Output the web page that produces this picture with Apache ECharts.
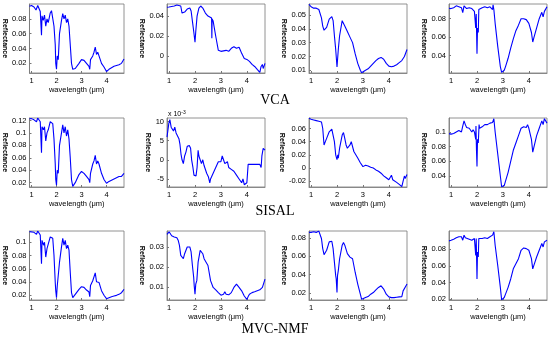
<!DOCTYPE html>
<html><head><meta charset="utf-8">
<script src="https://cdn.jsdelivr.net/npm/echarts@6/dist/echarts.min.js"></script>
<style>html,body{margin:0;padding:0;background:#fff}#c{width:550px;height:337px}</style>
</head><body><div id="c"></div>
<script>
const xTicks=[1,2,3,4];
const xRange=[0.92,4.7];
const methods=['VCA','SISAL','MVC-NMF'];

// VCA
const vca1=[[0.92,0.097],[1.0,0.098],[1.1,0.096],[1.18,0.092],[1.25,0.098],[1.3,0.097],[1.35,0.09],[1.4,0.058],[1.42,0.084],[1.47,0.078],[1.52,0.085],[1.57,0.07],[1.62,0.08],[1.67,0.075],[1.75,0.088],[1.8,0.091],[1.85,0.089],[1.9,0.07],[1.95,0.045],[1.97,0.02],[2.0,0.012],[2.03,0.03],[2.07,0.025],[2.12,0.06],[2.2,0.078],[2.25,0.087],[2.3,0.08],[2.35,0.085],[2.4,0.075],[2.45,0.08],[2.5,0.07],[2.55,0.045],[2.6,0.02],[2.65,0.012],[2.75,0.013],[2.9,0.02],[3.0,0.025],[3.1,0.024],[3.2,0.02],[3.3,0.016],[3.33,0.012],[3.36,0.025],[3.45,0.03],[3.5,0.035],[3.55,0.042],[3.6,0.032],[3.65,0.035],[3.7,0.03],[3.8,0.02],[3.9,0.015],[4.0,0.009],[4.1,0.012],[4.2,0.014],[4.3,0.016],[4.4,0.017],[4.5,0.018],[4.6,0.02],[4.7,0.026]];
const vca2=[[0.92,0.0487],[1.0,0.049],[1.1,0.0495],[1.2,0.05],[1.3,0.051],[1.35,0.052],[1.45,0.05],[1.5,0.043],[1.6,0.044],[1.7,0.047],[1.8,0.048],[1.85,0.045],[1.9,0.035],[1.95,0.025],[2.0,0.014],[2.03,0.025],[2.08,0.04],[2.15,0.048],[2.22,0.05],[2.3,0.048],[2.4,0.043],[2.5,0.04],[2.55,0.041],[2.64,0.038],[2.65,0.018],[2.66,0.037],[2.7,0.035],[2.8,0.02],[2.9,0.006],[3.0,0.005],[3.2,0.006],[3.3,0.005],[3.4,0.008],[3.5,0.0095],[3.6,0.008],[3.7,0.009],[3.75,0.006],[3.8,0.003],[3.9,-0.002],[4.0,-0.003],[4.1,-0.005],[4.2,-0.008],[4.3,-0.01],[4.4,-0.013],[4.5,-0.0158],[4.55,-0.01],[4.6,-0.008],[4.63,-0.012],[4.7,-0.007]];
const vca3=[[0.92,0.0578],[1.0,0.056],[1.1,0.055],[1.2,0.055],[1.3,0.054],[1.4,0.048],[1.45,0.042],[1.5,0.039],[1.55,0.038],[1.6,0.041],[1.7,0.047],[1.8,0.0488],[1.85,0.046],[1.9,0.035],[1.95,0.025],[2.0,0.0124],[2.05,0.025],[2.1,0.035],[2.2,0.0459],[2.3,0.042],[2.4,0.038],[2.5,0.034],[2.6,0.03],[2.7,0.022],[2.8,0.015],[2.9,0.01],[2.95,0.0082],[3.0,0.0085],[3.1,0.01],[3.2,0.011],[3.3,0.013],[3.4,0.015],[3.5,0.017],[3.6,0.0185],[3.7,0.0193],[3.8,0.018],[3.9,0.015],[4.0,0.013],[4.1,0.0125],[4.2,0.013],[4.3,0.014],[4.4,0.0155],[4.5,0.017],[4.6,0.02],[4.7,0.025]];
const vca4=[[0.92,0.0914],[1.0,0.091],[1.1,0.092],[1.2,0.094],[1.3,0.093],[1.4,0.092],[1.45,0.0866],[1.5,0.094],[1.55,0.095],[1.6,0.091],[1.7,0.092],[1.8,0.091],[1.85,0.09],[1.9,0.088],[1.95,0.07],[1.97,0.085],[2.0,0.0418],[2.02,0.07],[2.05,0.065],[2.07,0.09],[2.2,0.092],[2.3,0.093],[2.4,0.092],[2.5,0.093],[2.6,0.09],[2.62,0.095],[2.65,0.09],[2.7,0.075],[2.8,0.05],[2.9,0.028],[2.95,0.0217],[3.0,0.022],[3.05,0.024],[3.1,0.028],[3.2,0.037],[3.3,0.048],[3.4,0.058],[3.5,0.067],[3.6,0.073],[3.7,0.08],[3.8,0.08],[3.9,0.079],[3.95,0.08],[4.0,0.075],[4.1,0.065],[4.15,0.0547],[4.2,0.06],[4.3,0.07],[4.4,0.08],[4.5,0.087],[4.55,0.082],[4.6,0.088],[4.7,0.093]];

// SISAL
const sisal1=[[0.92,0.1227],[1.0,0.123],[1.1,0.121],[1.2,0.118],[1.25,0.124],[1.3,0.123],[1.35,0.118],[1.4,0.068],[1.42,0.11],[1.48,0.105],[1.52,0.11],[1.57,0.087],[1.62,0.1],[1.67,0.105],[1.75,0.118],[1.8,0.119],[1.85,0.115],[1.9,0.09],[1.95,0.05],[1.97,0.025],[2.0,0.016],[2.03,0.04],[2.07,0.035],[2.12,0.08],[2.2,0.1],[2.25,0.113],[2.3,0.1],[2.35,0.11],[2.4,0.095],[2.45,0.105],[2.5,0.09],[2.55,0.06],[2.6,0.025],[2.65,0.014],[2.75,0.02],[2.9,0.033],[3.0,0.038],[3.1,0.035],[3.2,0.03],[3.3,0.025],[3.33,0.02],[3.36,0.035],[3.45,0.05],[3.5,0.055],[3.55,0.064],[3.6,0.05],[3.65,0.055],[3.7,0.05],[3.8,0.035],[3.9,0.025],[4.0,0.019],[4.1,0.022],[4.2,0.024],[4.3,0.026],[4.4,0.028],[4.5,0.03],[4.55,0.027],[4.6,0.03],[4.7,0.035]];
// values in units of 1e-3
const sisal2=[[0.92,5.9],[0.99,9.5],[1.03,10.5],[1.08,8.5],[1.12,9],[1.17,7.5],[1.22,8.5],[1.27,7],[1.32,6.5],[1.38,5.5],[1.42,4],[1.46,1.5],[1.5,0],[1.55,-1],[1.6,1],[1.65,2],[1.7,3.5],[1.78,3.7],[1.83,3],[1.87,0],[1.92,-2],[1.96,-4],[2.0,-3.5],[2.04,-4.2],[2.08,-2],[2.12,2.5],[2.15,1],[2.2,1.5],[2.25,-1],[2.3,0],[2.35,-1.5],[2.4,-2],[2.45,-3.5],[2.52,-4.5],[2.57,-6],[2.6,-5],[2.7,-3.5],[2.8,-2],[2.9,-0.5],[2.95,-1],[3.0,-0.5],[3.05,1],[3.1,0],[3.15,-1],[3.2,-1.5],[3.25,-0.5],[3.3,-2],[3.35,-1.5],[3.4,-2.5],[3.5,-3],[3.55,-2.5],[3.6,-4],[3.65,-3.5],[3.7,-5],[3.75,-4.5],[3.8,-6],[3.85,-5],[3.9,-6.5],[3.95,-7],[4.0,-6],[4.05,-1.2],[4.1,-1],[4.5,-1.2],[4.55,-2],[4.58,1],[4.63,3],[4.7,2.5]];
const sisal3=[[0.92,0.0755],[1.0,0.074],[1.1,0.073],[1.2,0.072],[1.3,0.071],[1.4,0.07],[1.45,0.06],[1.5,0.035],[1.55,0.04],[1.6,0.045],[1.7,0.055],[1.8,0.059],[1.85,0.057],[1.9,0.04],[1.95,0.02],[2.0,0.0125],[2.03,0.02],[2.05,0.015],[2.1,0.03],[2.2,0.05],[2.25,0.0538],[2.3,0.045],[2.35,0.035],[2.4,0.03],[2.45,0.032],[2.5,0.035],[2.55,0.04],[2.6,0.0383],[2.65,0.025],[2.7,0.022],[2.8,0.015],[2.9,0.008],[3.0,0.002],[3.1,0.004],[3.2,0.003],[3.25,0.004],[3.3,0.001],[3.4,0.0],[3.5,-0.003],[3.6,-0.005],[3.7,-0.008],[3.8,-0.012],[3.9,-0.015],[4.0,-0.018],[4.05,-0.016],[4.1,-0.011],[4.15,-0.018],[4.2,-0.02],[4.3,-0.022],[4.4,-0.025],[4.5,-0.0285],[4.55,-0.02],[4.6,-0.0123],[4.63,-0.016],[4.7,-0.01]];
const sisal4=[[0.92,0.0977],[1.0,0.097],[1.1,0.098],[1.2,0.1],[1.3,0.102],[1.35,0.101],[1.4,0.1],[1.45,0.108],[1.5,0.115],[1.55,0.11],[1.6,0.106],[1.7,0.105],[1.8,0.1],[1.85,0.103],[1.9,0.1],[1.95,0.09],[1.96,0.108],[1.98,0.075],[2.0,0.053],[2.02,0.09],[2.05,0.085],[2.08,0.11],[2.1,0.105],[2.2,0.107],[2.3,0.11],[2.4,0.11],[2.5,0.112],[2.6,0.113],[2.65,0.118],[2.7,0.1],[2.8,0.07],[2.9,0.04],[2.95,0.0253],[3.0,0.026],[3.05,0.027],[3.1,0.033],[3.2,0.045],[3.3,0.06],[3.4,0.075],[3.5,0.085],[3.6,0.095],[3.7,0.105],[3.8,0.107],[3.9,0.106],[3.95,0.11],[4.0,0.105],[4.1,0.09],[4.15,0.0725],[4.2,0.08],[4.3,0.095],[4.4,0.105],[4.5,0.115],[4.55,0.11],[4.6,0.118],[4.7,0.112]];

// MVC-NMF
const mvc1=[[0.92,0.116],[1.1,0.115],[1.2,0.112],[1.25,0.117],[1.3,0.116],[1.35,0.111],[1.4,0.0675],[1.42,0.103],[1.48,0.0956],[1.52,0.1],[1.57,0.0777],[1.62,0.0905],[1.67,0.093],[1.75,0.108],[1.8,0.11],[1.85,0.106],[1.9,0.08],[1.95,0.0395],[1.97,0.027],[2.0,0.0165],[2.03,0.034],[2.07,0.032],[2.12,0.07],[2.2,0.093],[2.25,0.106],[2.3,0.0956],[2.35,0.103],[2.4,0.0905],[2.45,0.0956],[2.5,0.088],[2.55,0.0548],[2.6,0.024],[2.65,0.0165],[2.75,0.0215],[2.9,0.029],[3.0,0.033],[3.1,0.032],[3.2,0.028],[3.3,0.025],[3.33,0.018],[3.36,0.035],[3.45,0.042],[3.5,0.0446],[3.55,0.0538],[3.6,0.0405],[3.65,0.0435],[3.7,0.0395],[3.8,0.027],[3.9,0.0201],[4.0,0.015],[4.1,0.0165],[4.2,0.018],[4.3,0.019],[4.4,0.02],[4.5,0.0215],[4.55,0.02],[4.6,0.024],[4.7,0.029]];
const mvc2=[[0.92,0.0363],[1.0,0.0376],[1.05,0.0368],[1.1,0.0356],[1.2,0.035],[1.25,0.0342],[1.3,0.0346],[1.35,0.0334],[1.4,0.0308],[1.45,0.0258],[1.5,0.0249],[1.55,0.0241],[1.6,0.0266],[1.7,0.03],[1.75,0.0308],[1.8,0.03],[1.85,0.0275],[1.9,0.0207],[1.95,0.0147],[1.97,0.0105],[2.0,0.0063],[2.03,0.0114],[2.07,0.0131],[2.12,0.0224],[2.2,0.0283],[2.25,0.0288],[2.3,0.0266],[2.35,0.0241],[2.4,0.0232],[2.5,0.0207],[2.6,0.0131],[2.7,0.0097],[2.8,0.0085],[2.9,0.0071],[3.0,0.0058],[3.1,0.0063],[3.15,0.0075],[3.2,0.0063],[3.3,0.006],[3.4,0.0071],[3.5,0.0097],[3.6,0.0114],[3.65,0.0108],[3.7,0.0097],[3.8,0.008],[3.9,0.0054],[3.95,0.0046],[4.0,0.0037],[4.05,0.0051],[4.1,0.0063],[4.2,0.0071],[4.3,0.0075],[4.4,0.008],[4.5,0.0085],[4.6,0.0097],[4.7,0.0139]];
const mvc3=[[0.92,0.0859],[1.0,0.0859],[1.1,0.0866],[1.2,0.0859],[1.3,0.0873],[1.35,0.0866],[1.4,0.0793],[1.45,0.0683],[1.5,0.0617],[1.55,0.0628],[1.6,0.0665],[1.7,0.0756],[1.75,0.0774],[1.8,0.0763],[1.85,0.0683],[1.9,0.0537],[1.95,0.039],[1.97,0.0354],[2.0,0.0207],[2.02,0.039],[2.05,0.0445],[2.1,0.0573],[2.2,0.072],[2.25,0.0749],[2.3,0.072],[2.4,0.0628],[2.5,0.0591],[2.6,0.0573],[2.65,0.0555],[2.7,0.0427],[2.8,0.0299],[2.9,0.0189],[2.95,0.0134],[3.0,0.0134],[3.1,0.0152],[3.2,0.0163],[3.3,0.0189],[3.4,0.0207],[3.5,0.0236],[3.6,0.0262],[3.7,0.028],[3.75,0.0273],[3.8,0.0244],[3.9,0.0189],[4.0,0.016],[4.1,0.0152],[4.2,0.0152],[4.3,0.0156],[4.4,0.016],[4.5,0.0163],[4.55,0.0225],[4.6,0.0214],[4.7,0.0299]];
const mvc4=[[0.92,0.0901],[1.0,0.0909],[1.1,0.0922],[1.2,0.0938],[1.3,0.095],[1.35,0.093],[1.4,0.095],[1.45,0.0909],[1.5,0.097],[1.55,0.0938],[1.6,0.093],[1.7,0.0922],[1.8,0.0909],[1.9,0.093],[1.95,0.0727],[1.97,0.093],[2.0,0.0443],[2.02,0.0768],[2.05,0.0707],[2.07,0.093],[2.2,0.093],[2.3,0.0938],[2.4,0.093],[2.5,0.095],[2.6,0.097],[2.65,0.1011],[2.7,0.0849],[2.8,0.0605],[2.9,0.0342],[2.95,0.0192],[3.0,0.02],[3.05,0.022],[3.1,0.0261],[3.2,0.0342],[3.3,0.0443],[3.4,0.0565],[3.5,0.0626],[3.6,0.0687],[3.7,0.0788],[3.8,0.0816],[3.9,0.0808],[3.95,0.0828],[4.0,0.0788],[4.1,0.0687],[4.15,0.0565],[4.2,0.0613],[4.3,0.0707],[4.4,0.0788],[4.5,0.0869],[4.55,0.0828],[4.6,0.0889],[4.7,0.0909]];

// y tick labels per panel
const yTicksVca1=[0.02,0.04,0.06,0.08];
const yTicksVca2=[0,0.02,0.04];
const yTicksVca3=[0.01,0.02,0.03,0.04,0.05];
const yTicksVca4=[0.04,0.06,0.08];
const yTicksSisal1=[0.02,0.04,0.06,0.08,0.1,0.12];
const yTicksSisal2=[-5,0,5,10];
const yTicksSisal3=[-0.02,0,0.02,0.04,0.06];
const yTicksSisal4=[0.04,0.06,0.08,0.1];
const yTicksMvc1=[0.02,0.04,0.06,0.08,0.1];
const yTicksMvc2=[0.01,0.02,0.03];
const yTicksMvc3=[0.02,0.04,0.06,0.08];
const yTicksMvc4=[0.02,0.04,0.06,0.08];
// y axis ranges per panel
const yRanges=[[0.007,0.1],[-0.0165,0.052],[0.008,0.058],[0.021,0.096],
               [0.013,0.124],[-7.1,10.9],[-0.029,0.076],[0.025,0.119],
               [0.013,0.117],[0.0034,0.038],[0.0126,0.0874],[0.019,0.102]];

const panelData=[vca1,vca2,vca3,vca4,sisal1,sisal2,sisal3,sisal4,mvc1,mvc2,mvc3,mvc4];
const panelTicks=[yTicksVca1,yTicksVca2,yTicksVca3,yTicksVca4,yTicksSisal1,yTicksSisal2,yTicksSisal3,yTicksSisal4,yTicksMvc1,yTicksMvc2,yTicksMvc3,yTicksMvc4];

const colLeft=[26,167,309,449], rowTop=[4,118,231], W=98, H=69;
const FONT='Liberation Sans';
const grids=[],xAxes=[],yAxes=[],series=[];
for(let i=0;i<12;i++){
  const r=Math.floor(i/4), c=i%4;
  grids.push({left:colLeft[c],top:rowTop[r],width:W,height:H,show:true,borderColor:'#777',borderWidth:0.8,backgroundColor:'#fff'});
  xAxes.push({gridIndex:i,type:'value',min:xRange[0],max:xRange[1],
    name:'wavelength (\u03bcm)',nameLocation:'middle',nameGap:13,
    nameTextStyle:{fontFamily:FONT,fontSize:7.5,color:'#000'},
    axisLine:{show:true,onZero:false,lineStyle:{color:'#777',width:0.8}},
    axisTick:{show:true,inside:true,length:2,customValues:xTicks,lineStyle:{color:'#777'}},
    axisLabel:{customValues:xTicks,fontFamily:FONT,fontSize:7.5,color:'#000',margin:4},
    splitLine:{show:false}});
  yAxes.push({gridIndex:i,type:'value',min:yRanges[i][0],max:yRanges[i][1],
    name:'Reflectance',nameLocation:'middle',nameRotate:-90,nameGap:i===5?12:20,
    nameTextStyle:{fontFamily:FONT,fontSize:7,color:'#000',fontWeight:'bold'},
    axisLine:{show:true,onZero:false,lineStyle:{color:'#777',width:0.8}},
    axisTick:{show:true,inside:true,length:2,customValues:panelTicks[i],lineStyle:{color:'#777'}},
    axisLabel:{customValues:panelTicks[i],fontFamily:FONT,fontSize:7.5,color:'#000',margin:3},
    splitLine:{show:false}});
  series.push({type:'line',xAxisIndex:i,yAxisIndex:i,data:panelData[i],showSymbol:false,
    lineStyle:{color:'#0000ff',width:1.1},clip:true,animation:false});
}
const titleY=[101,212,330];
const graphics=methods.map((m,k)=>({type:'text',left:'center',top:titleY[k]-8,
  style:{text:m,font:'14px "Liberation Serif"',fill:'#000'}}));
graphics.push({type:'text',left:168,top:110,style:{text:'x 10{s|-3}',rich:{s:{fontSize:5,fontFamily:FONT,verticalAlign:'top',padding:[0,0,4,0]}},fontSize:7,fontFamily:FONT,fill:'#000'}});
const chart=echarts.init(document.getElementById('c'),null,{renderer:'canvas'});
chart.setOption({animation:false,backgroundColor:'#fff',grid:grids,xAxis:xAxes,yAxis:yAxes,series:series,graphic:graphics});
</script></body></html>
